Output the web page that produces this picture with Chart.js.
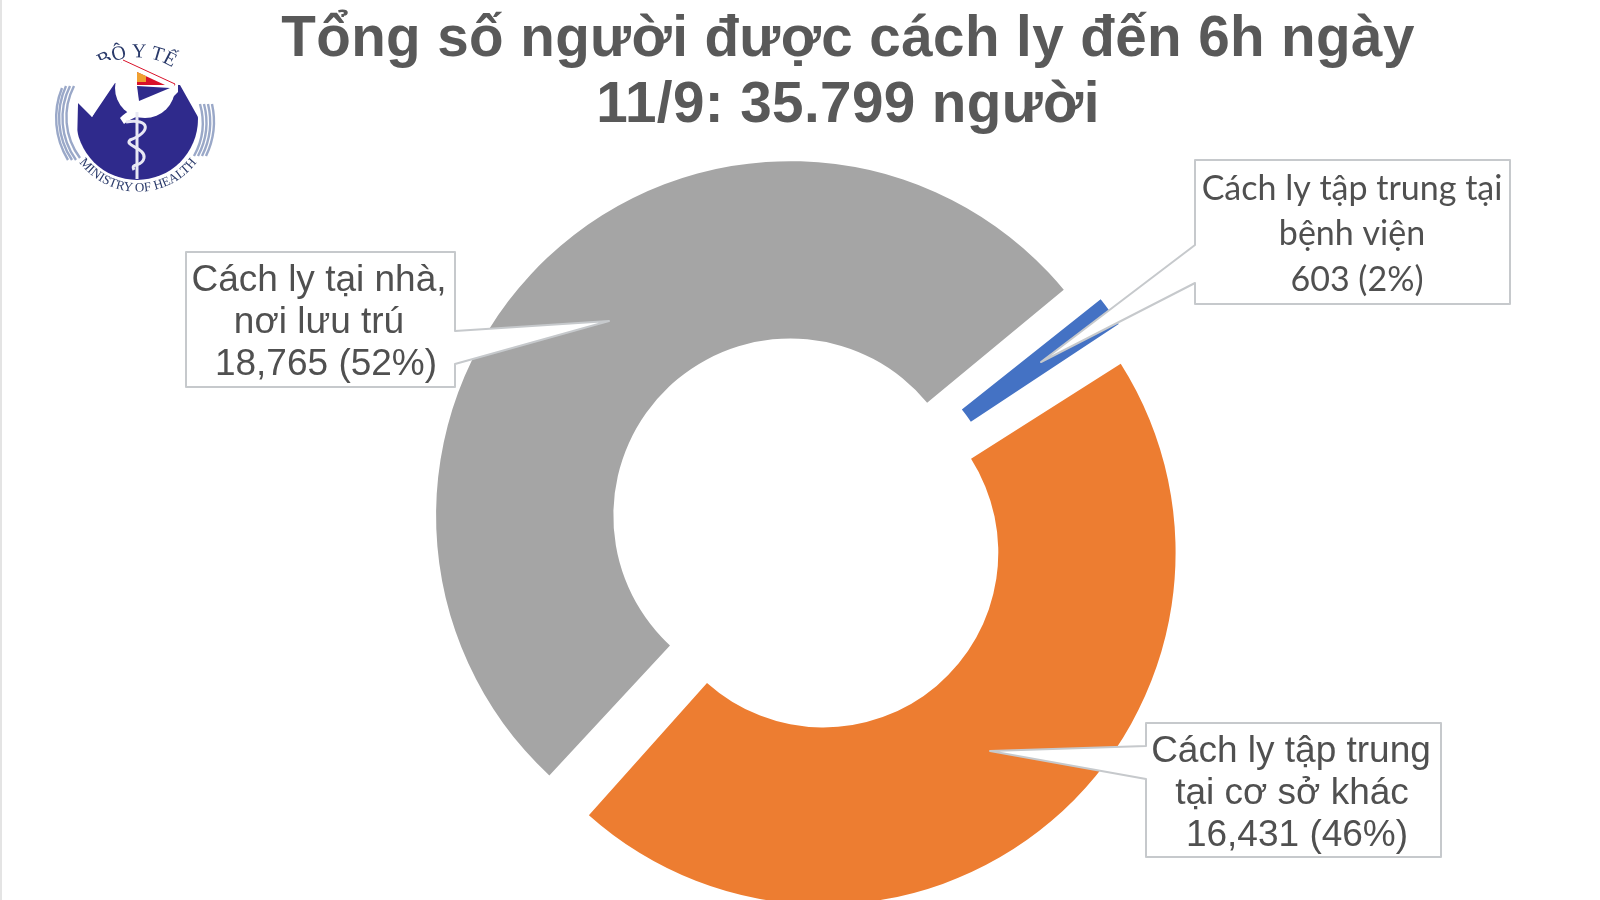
<!DOCTYPE html>
<html>

<head>
    <meta charset="utf-8">
    <title>Cách ly</title>
    <style>
        html, body { margin: 0; padding: 0; width: 1600px; height: 900px; overflow: hidden; background: #fff; }
        #edge { position: absolute; left: 0; top: 0; width: 2px; height: 900px; background: #e4e4e4; }
        #chart { position: absolute; left: 0; top: 0; }
        #title { position: absolute; left: 248px; top: 4px; width: 1200px; margin: 0; text-align: center;
            font: bold 56.6px/66px "Liberation Sans", Arial, sans-serif; color: #595959; letter-spacing: 0.4px; }
        #logo { position: absolute; left: 0; top: 0; }
    </style>
    <script src="https://cdn.jsdelivr.net/npm/chart.js@4"></script>
</head>

<body>
    <div id="edge"></div>
    <canvas id="chart" width="1600" height="900"></canvas>
    <h1 id="title">Tổng số người được cách ly đến 6h ngày<br>11/9: 35.799 người</h1>

    <!-- logo, approximated -->
    <svg id="logo" width="240" height="210" viewBox="0 0 240 210">
        <defs>
            <path id="topArc" d="M 84 84 A 66 66 0 0 1 190 84" />
            <path id="botArc" d="M 76 158 A 74 74 0 0 0 200 158" />
            <clipPath id="disc"><circle cx="137" cy="119" r="61" /></clipPath>
        </defs>
        <g fill="none" stroke="#9aa8c8" stroke-width="2.4">
            <path d="M 74 86 A 68 68 0 0 0 80 158" />
            <path d="M 70 86 A 72 72 0 0 0 76 160" />
            <path d="M 66 86 A 76 76 0 0 0 72 160" />
            <path d="M 62 88 A 80 80 0 0 0 68 160" />
            <path d="M 200 104 A 68 68 0 0 1 194 156" />
            <path d="M 204 104 A 72 72 0 0 1 198 156" />
            <path d="M 208 104 A 76 76 0 0 1 202 156" />
            <path d="M 212 104 A 80 80 0 0 1 206 156" />
        </g>
        <text font-family="Liberation Serif" font-size="20" fill="#2a3a6a"><textPath href="#topArc" startOffset="50%" text-anchor="middle">BỘ Y TẾ</textPath></text>
        <polygon points="78,103 92,117 115,83 180,85 198,117 198,190 76,190" fill="#2f2a8c" clip-path="url(#disc)" />
        <polygon points="95,78 107,70 108,77 102,85" fill="#d9122a" />
        <circle cx="145" cy="88" r="30" fill="#fff" />
        <polygon points="123,60 92,117 78,88 84,60" fill="#fff" />
        <polygon points="137,72 165,85 137,85" fill="#d9122a" />
        <polygon points="137,72 146,76 146,82 137,82" fill="#f0a030" />
        <polygon points="137,86 170,88 139,101" fill="#2f2a8c" />
        <polyline points="123,60 175,84 172,96" fill="none" stroke="#d9122a" stroke-width="1" />
        <path d="M 120 118 C 134 104 156 104 178 82 L 178 92 C 160 112 136 114 124 124 Z" fill="#fff" />
        <line x1="137" y1="112" x2="137" y2="179" stroke="#e8e8f4" stroke-width="3" />
        <path d="M 126 122 C 150 118 152 132 130 140 C 124 146 146 148 144 158 C 142 168 130 162 134 170" fill="none" stroke="#e8e8f4" stroke-width="3" />
        <text font-family="Liberation Serif" font-size="13" fill="#2a3a6a"><textPath href="#botArc" startOffset="50%" text-anchor="middle">MINISTRY OF HEALTH</textPath></text>
    </svg>

    <script>
        var labels = ["Cách ly tập trung tại bệnh viện", "Cách ly tập trung tại cơ sở khác", "Cách ly tại nhà, nơi lưu trú"];
        var values = [603, 16431, 18765];
        var colors = ["#4472C4", "#ED7D31", "#A5A5A5"];
        var blueLines = ["Cách ly tập trung tại", "bệnh viện", "603 (2%)"];
        var orangeLines = ["Cách ly tập trung", "tại cơ sở khác", "16,431 (46%)"];
        var grayLines = ["Cách ly tại nhà,", "nơi lưu trú", "18,765 (52%)"];

        // callout boxes: rectangle, wedge on one side, text lines
        var callouts = [
            { box: [1195, 160, 1510, 304], side: "left", base: [245, 283], tip: [1041, 362], lines: blueLines, xs: [1352, 1352, 1357], ys: [189, 234, 280], font: '34px Lato' },
            { box: [1146, 723, 1441, 857], side: "left", base: [746, 779], tip: [990, 751], lines: orangeLines, xs: [1291, 1292, 1297], ys: [752, 794, 836], font: '37px "Liberation Sans"' },
            { box: [186, 252, 455, 387], side: "right", base: [331, 364], tip: [609, 321], lines: grayLines, xs: [319, 319, 326], ys: [281, 323, 365], font: '37px "Liberation Sans"' }
        ];

        var calloutPlugin = {
            id: 'callouts',
            afterDatasetsDraw: function (chart) {
                var ctx = chart.ctx;
                callouts.forEach(function (c) {
                    var l = c.box[0], t = c.box[1], r = c.box[2], b = c.box[3];
                    ctx.save();
                    ctx.beginPath();
                    ctx.moveTo(l, t);
                    ctx.lineTo(r, t);
                    if (c.side == "right") {
                        ctx.lineTo(r, c.base[0]);
                        ctx.lineTo(c.tip[0], c.tip[1]);
                        ctx.lineTo(r, c.base[1]);
                    }
                    ctx.lineTo(r, b);
                    ctx.lineTo(l, b);
                    if (c.side == "left") {
                        ctx.lineTo(l, c.base[1]);
                        ctx.lineTo(c.tip[0], c.tip[1]);
                        ctx.lineTo(l, c.base[0]);
                    }
                    ctx.closePath();
                    ctx.fillStyle = "#fff";
                    ctx.fill();
                    ctx.strokeStyle = "#c6c9cc";
                    ctx.lineWidth = 2;
                    ctx.lineJoin = "round";
                    ctx.stroke();
                    ctx.fillStyle = "#505050";
                    ctx.font = c.font;
                    ctx.textAlign = "center";
                    ctx.textBaseline = "middle";
                    c.lines.forEach(function (line, i) {
                        ctx.fillText(line, c.xs[i], c.ys[i]);
                    });
                    ctx.restore();
                });
            }
        };

        var chart = new Chart(document.getElementById("chart"), {
            type: 'doughnut',
            data: {
                labels: labels,
                datasets: [{
                    data: values,
                    backgroundColor: colors,
                    borderWidth: 0,
                    offset: [92, 108, 90]
                }]
            },
            options: {
                responsive: false,
                animation: false,
                devicePixelRatio: 1,
                rotation: 51,
                radius: 332,
                cutout: '46.6%',
                layout: { padding: { left: 12, top: 164 } },
                plugins: { legend: { display: false }, tooltip: { enabled: false } }
            },
            plugins: [calloutPlugin]
        });
    </script>
</body>

</html>
